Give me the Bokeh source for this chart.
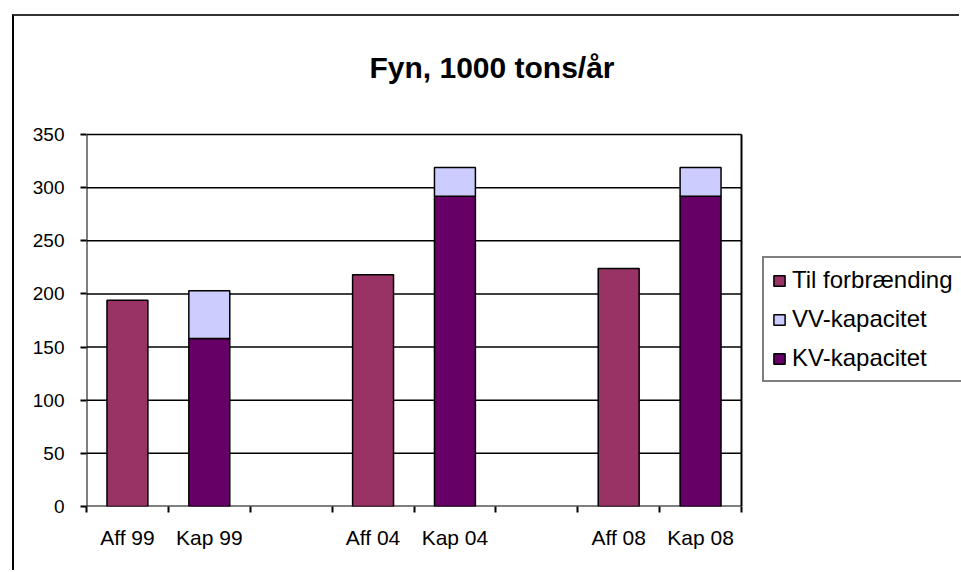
from bokeh.plotting import figure
from bokeh.models import Range1d, FixedTicker, Legend, LegendItem, Label
from bokeh.embed import file_html
from bokeh.resources import INLINE

# ---- data ----
categories = ["Aff 99", "Kap 99", "", "Aff 04", "Kap 04", "", "Aff 08", "Kap 08"]
til_forbraending = [194, 218, 224]   # Aff 99, Aff 04, Aff 08
kv_kapacitet = [158, 292, 292]       # Kap 99, Kap 04, Kap 08
vv_kapacitet = [45, 27, 27]
y_ticks = [0, 50, 100, 150, 200, 250, 300, 350]
title_text = "Fyn, 1000 tons/år"

C_AFF = "#993366"
C_VV = "#CCCCFF"
C_KV = "#660066"
FONT = "Liberation Sans"

# ---- layout (pixels) ----
PLOT_W, PLOT_H = 655, 372          # value-axis area
FRAME_W, FRAME_H = 875, 490        # drawing frame (also holds title & legend)
n_cat = len(categories)
y_max = y_ticks[-1]
x_end = n_cat * FRAME_W / PLOT_W
y_end = y_max * FRAME_H / PLOT_H

aff_x = [3 * i + 0.5 for i in range(len(til_forbraending))]
kap_x = [3 * i + 1.5 for i in range(len(kv_kapacitet))]

p = figure(width=947, height=556, output_backend="svg", toolbar_location=None,
           x_range=Range1d(0, x_end), y_range=Range1d(0, y_end),
           min_border_left=72, min_border_right=0, min_border_top=0,
           min_border_bottom=66)
p.title.visible = False
p.styles = {"border-left": "2px solid black", "border-top": "2px solid #333",
            "margin-left": "12px", "margin-top": "14px"}
p.background_fill_color = "white"
p.border_fill_color = "white"
p.outline_line_color = None
p.xgrid.grid_line_color = None
p.ygrid.grid_line_color = None

# gridlines and plot-area border
p.segment(x0=0, x1=n_cat, y0=y_ticks[1:], y1=y_ticks[1:],
          line_color="black", line_width=1.5)
p.segment(x0=[0, n_cat], x1=[0, n_cat], y0=0, y1=y_max,
          line_color="black", line_width=2)
p.segment(x0=0, x1=n_cat, y0=0, y1=0, line_color="black", line_width=2)

# bars
r_aff = p.vbar(x=aff_x, top=til_forbraending, width=0.5, fill_color=C_AFF,
               line_color="black", line_width=1.5)
src = dict(x=kap_x, kv=kv_kapacitet, vv=vv_kapacitet)
r_kv, r_vv = p.vbar_stack(["kv", "vv"], x="x", width=0.5, source=src,
                          fill_color=[C_KV, C_VV], line_color="black",
                          line_width=1.5)

# axes (line drawn above)
p.xaxis.ticker = FixedTicker(ticks=[i + 0.5 for i in range(n_cat)],
                             minor_ticks=list(range(n_cat + 1)))
p.xaxis.major_label_overrides = {i + 0.5: c for i, c in enumerate(categories)}
p.xaxis.major_tick_out = 0
p.xaxis.major_tick_in = 0
p.xaxis.minor_tick_out = 6
p.xaxis.minor_tick_in = 0
p.xaxis.minor_tick_line_color = "black"
p.xaxis.minor_tick_line_width = 2
p.xaxis.major_label_standoff = 13
p.yaxis.ticker = FixedTicker(ticks=y_ticks)
p.yaxis.major_tick_out = 6
p.yaxis.major_tick_in = 0
p.yaxis.minor_tick_out = 0
p.yaxis.minor_tick_in = 0
p.yaxis.major_label_standoff = 16
for ax in (p.xaxis, p.yaxis):
    ax.axis_line_color = None
    ax.major_tick_line_color = "black"
    ax.major_tick_line_width = 2
    ax.major_label_text_font = FONT
    ax.major_label_text_color = "black"
p.xaxis.major_label_text_font_size = "21px"
p.yaxis.major_label_text_font_size = "19px"

# legend
legend = Legend(items=[LegendItem(label="Til forbrænding", renderers=[r_aff]),
                       LegendItem(label="VV-kapacitet", renderers=[r_vv]),
                       LegendItem(label="KV-kapacitet", renderers=[r_kv])],
                location=(676, 124), orientation="vertical")
legend.border_line_color = "black"
legend.border_line_width = 2
legend.background_fill_color = "white"
legend.background_fill_alpha = 1
legend.label_text_font = FONT
legend.label_text_font_size = "24px"
legend.label_text_color = "black"
legend.glyph_width = 14
legend.glyph_height = 13
legend.label_height = 28
legend.label_width = 170
legend.spacing = 11
legend.padding = 8
legend.margin = 0
legend.label_standoff = 6
p.add_layout(legend)

# title
p.add_layout(Label(x=n_cat * 405.5 / PLOT_W, y=y_max * 439 / PLOT_H,
                   text=title_text, text_align="center",
                   text_baseline="alphabetic", text_font=FONT,
                   text_font_size="30px", text_font_style="bold",
                   text_color="black"))

open("out.html", "w").write(file_html(p, INLINE))
